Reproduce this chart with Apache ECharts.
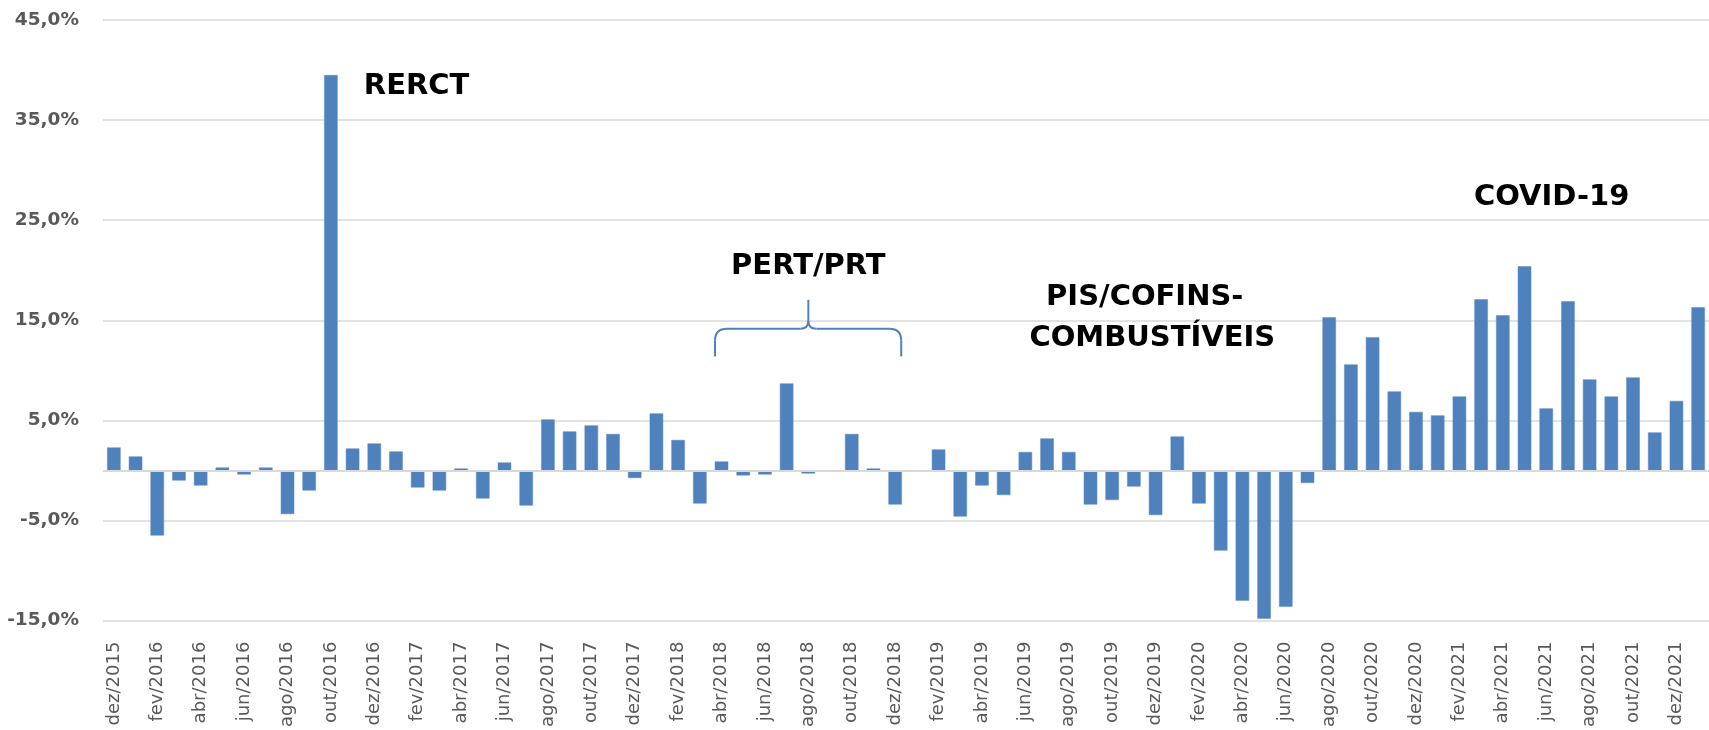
<!DOCTYPE html>
<html>
<head>
<meta charset="utf-8">
<script src="https://cdn.jsdelivr.net/npm/echarts@6/dist/echarts.min.js"></script>
<style>
  html, body { margin: 0; padding: 0; background: #fff; }
  #chart { width: 1709px; height: 730px; }
</style>
</head>
<body>
<div id="chart"></div>
<script>
/* variação mensal - série dez/2015 a jan/2022 */
const months = [
  'dez/2015',
  'jan/2016', 'fev/2016', 'mar/2016', 'abr/2016', 'mai/2016', 'jun/2016', 'jul/2016', 'ago/2016', 'set/2016', 'out/2016', 'nov/2016', 'dez/2016',
  'jan/2017', 'fev/2017', 'mar/2017', 'abr/2017', 'mai/2017', 'jun/2017', 'jul/2017', 'ago/2017', 'set/2017', 'out/2017', 'nov/2017', 'dez/2017',
  'jan/2018', 'fev/2018', 'mar/2018', 'abr/2018', 'mai/2018', 'jun/2018', 'jul/2018', 'ago/2018', 'set/2018', 'out/2018', 'nov/2018', 'dez/2018',
  'jan/2019', 'fev/2019', 'mar/2019', 'abr/2019', 'mai/2019', 'jun/2019', 'jul/2019', 'ago/2019', 'set/2019', 'out/2019', 'nov/2019', 'dez/2019',
  'jan/2020', 'fev/2020', 'mar/2020', 'abr/2020', 'mai/2020', 'jun/2020', 'jul/2020', 'ago/2020', 'set/2020', 'out/2020', 'nov/2020', 'dez/2020',
  'jan/2021', 'fev/2021', 'mar/2021', 'abr/2021', 'mai/2021', 'jun/2021', 'jul/2021', 'ago/2021', 'set/2021', 'out/2021', 'nov/2021', 'dez/2021',
  'jan/2022'
];

const values = [
  2.3,
  1.4, -6.5, -1.0, -1.5, 0.3, -0.4, 0.3, -4.35, -2.0, 39.5, 2.2, 2.7,
  1.9, -1.7, -2.0, 0.2, -2.8, 0.8, -3.5, 5.1, 3.9, 4.5, 3.65, -0.75,
  5.7, 3.05, -3.3, 0.9, -0.5, -0.4, 8.7, -0.3, 0, 3.65, 0.2, -3.4,
  0, 2.1, -4.6, -1.5, -2.45, 1.85, 3.2, 1.85, -3.4, -2.95, -1.6, -4.45,
  3.4, -3.3, -8.0, -13.0, -14.8, -13.6, -1.25, 15.3, 10.6, 13.3, 7.9, 5.85,
  5.5, 7.4, 17.1, 15.5, 20.4, 6.2, 16.9, 9.1, 7.4, 9.3, 3.8, 6.95,
  16.3
];

const yTicks = { min: -15, max: 45, step: 10 };

// anotações: texto, posição em [índice da categoria, valor]
const notes = [
  { text: 'RERCT', at: [13.95, 38.4] },
  { text: 'PERT/PRT', at: [32.0, 20.4] },
  { text: 'PIS/COFINS-', at: [47.5, 17.3] },
  { text: 'COMBUSTÍVEIS', at: [47.85, 13.2] },
  { text: 'COVID-19', at: [66.25, 27.3] },
];
// chave sobre abr/2018 .. dez/2018
const brace = { from: 27.7, to: 36.28, mid: 32.0, base: 11.4, bar: 14.15, tip: 17.05 };

const FONT = '"DejaVu Sans", sans-serif';
const chart = echarts.init(document.getElementById('chart'));

chart.setOption({
  animation: false,
  grid: { left: 103, right: -12.75, top: 20, bottom: 109, containLabel: false },
  xAxis: {
    type: 'category',
    data: months,
    axisLine: { show: false, onZero: false },
    axisTick: { show: false },
    axisLabel: {
      rotate: 90, interval: 1, margin: 21,
      color: '#595959', fontSize: 18, fontFamily: FONT
    },
  },
  yAxis: {
    type: 'value',
    min: yTicks.min, max: yTicks.max, interval: yTicks.step,
    axisLine: { show: false },
    axisTick: { show: false },
    axisLabel: {
      margin: 24, color: '#595959', fontSize: 18.5, fontWeight: 'bold', fontFamily: FONT,
      formatter: v => v.toFixed(1).replace('.', ',') + '%'
    },
    splitLine: { lineStyle: { color: '#d9d9d9', width: 1.5 } },
  },
  series: [{
    type: 'bar',
    data: values,
    barWidth: 13.5,
    itemStyle: { color: '#4f81bd', borderColor: '#5b8cc6', borderWidth: 0.5 },
    markLine: {
      silent: true, symbol: 'none', label: { show: false },
      lineStyle: { color: '#d9d9d9', type: 'solid', width: 2 },
      data: [{ yAxis: 0 }],
    },
  }],
});

function px(i, v) {
  const a = chart.convertToPixel({ seriesIndex: 0 }, [0, v]);
  const b = chart.convertToPixel({ seriesIndex: 0 }, [1, v]);
  return [a[0] + (b[0] - a[0]) * i, a[1]];
}

const graphics = notes.map(n => {
  const p = px(n.at[0], n.at[1]);
  return {
    type: 'text', x: p[0], y: p[1],
    style: {
      text: n.text, fill: '#000', font: 'bold 29px ' + FONT,
      align: 'center', verticalAlign: 'middle'
    },
  };
});

// chave desenhada com segmentos e curvas
const L = px(brace.from, brace.base), R = px(brace.to, brace.base);
const M = px(brace.mid, brace.tip);
const yb = px(0, brace.bar)[1];
const r = 12, k = 8;
const braceStyle = { stroke: '#4f81bd', lineWidth: 2, fill: null };
const seg = (x1, y1, x2, y2) => ({ type: 'line', shape: { x1, y1, x2, y2 }, style: braceStyle });
const curve = (x1, y1, cx, cy, x2, y2) => ({
  type: 'bezierCurve', shape: { x1, y1, x2, y2, cpx1: cx, cpy1: cy }, style: braceStyle
});
graphics.push(
  seg(L[0], L[1], L[0], yb + r),
  curve(L[0], yb + r, L[0], yb, L[0] + r, yb),
  seg(L[0] + r, yb, M[0] - k, yb),
  curve(M[0] - k, yb, M[0], yb, M[0], yb - k),
  curve(M[0] + k, yb, M[0], yb, M[0], yb - k),
  seg(M[0], yb - k, M[0], M[1]),
  seg(M[0] + k, yb, R[0] - r, yb),
  curve(R[0] - r, yb, R[0], yb, R[0], yb + r),
  seg(R[0], yb + r, R[0], R[1])
);

chart.setOption({ graphic: graphics });
</script>
</body>
</html>
